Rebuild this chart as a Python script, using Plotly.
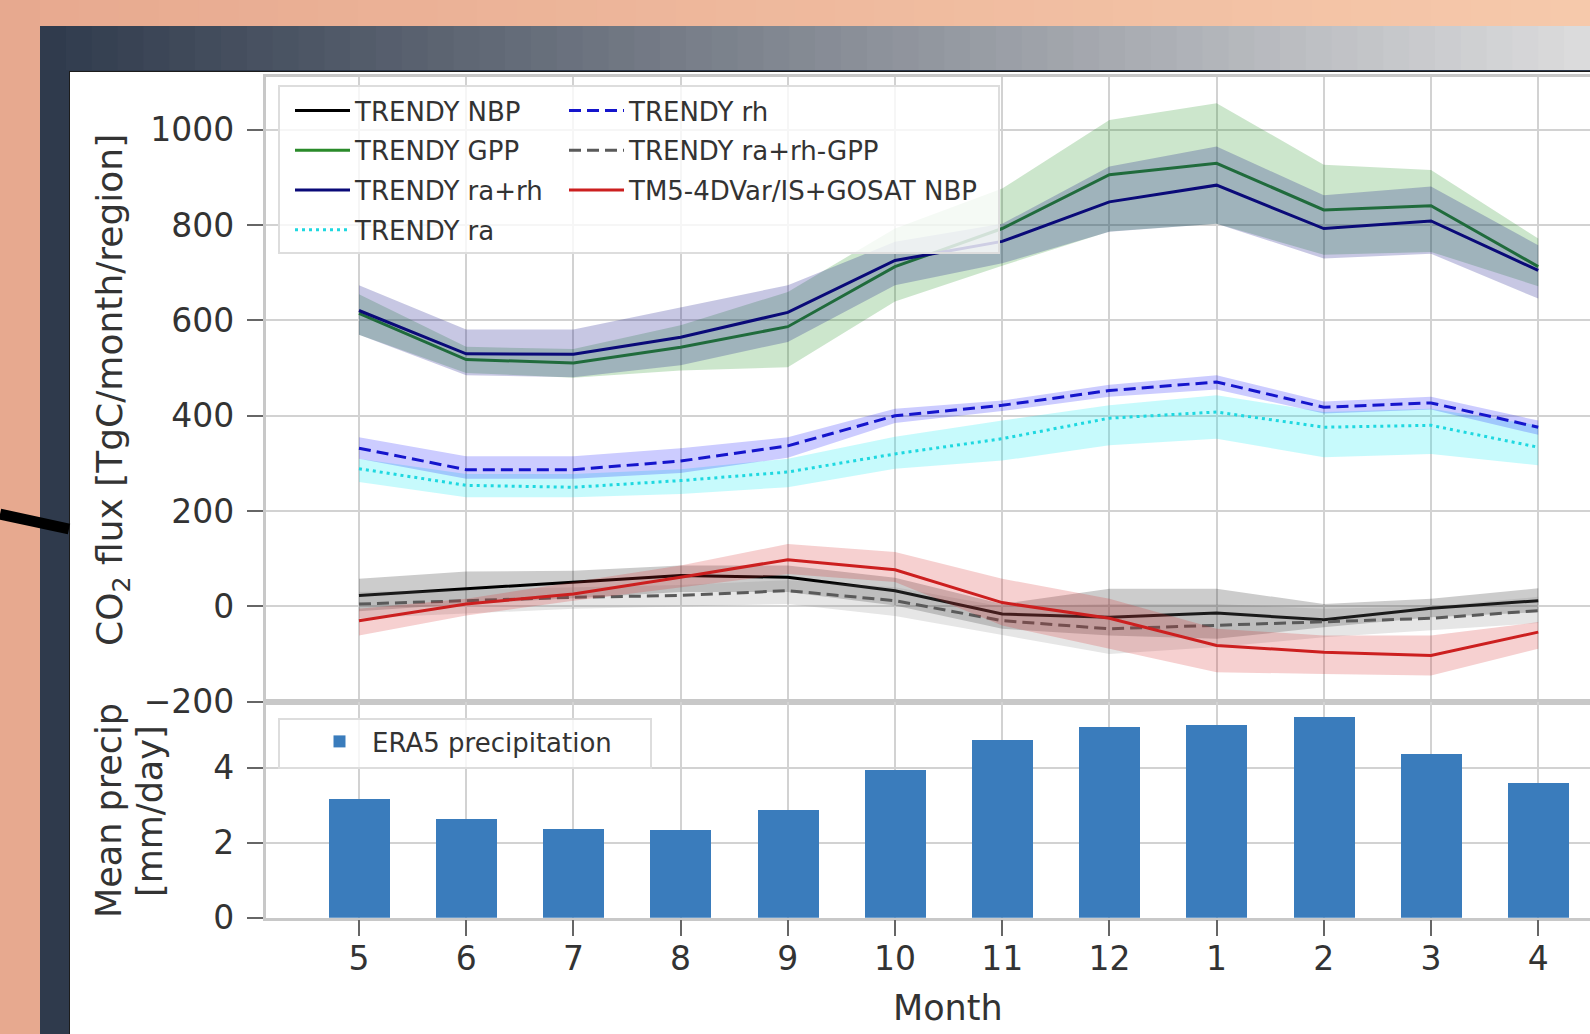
import plotly.graph_objects as go

W, H = 1590, 1034

# ---------------- data ----------------
months = ["5", "6", "7", "8", "9", "10", "11", "12", "1", "2", "3", "4"]

nbp_mean = [23, 37, 51, 65, 61, 33, -16, -23, -14, -28, -4, 12]
nbp_lo = [-10, 5, 17, 30, 30, 2, -47, -61, -68, -44, -23, -12]
nbp_hi = [58, 73, 75, 86, 86, 60, 5, 37, 37, 5, 16, 38]

gpp_mean = [615, 518, 511, 544, 587, 713, 793, 906, 930, 832, 841, 713]
gpp_lo = [570, 490, 480, 495, 502, 640, 715, 787, 803, 738, 744, 672]
gpp_hi = [655, 545, 540, 590, 660, 793, 877, 1021, 1056, 927, 916, 772]

rarh_mean = [621, 530, 529, 565, 617, 726, 766, 849, 884, 793, 809, 705]
rarh_lo = [570, 485, 481, 506, 555, 674, 720, 786, 803, 730, 740, 646]
rarh_hi = [674, 581, 581, 628, 674, 765, 803, 923, 965, 863, 881, 758]

ra_mean = [289, 254, 250, 264, 282, 320, 352, 395, 408, 376, 380, 334]
ra_lo = [261, 229, 229, 236, 250, 289, 306, 338, 352, 313, 320, 296]
ra_hi = [310, 278, 278, 288, 310, 356, 390, 422, 443, 408, 415, 380]

rh_mean = [332, 287, 287, 305, 337, 400, 422, 453, 471, 418, 427, 376]
rh_lo = [310, 268, 268, 280, 312, 385, 410, 440, 455, 405, 413, 360]
rh_hi = [355, 315, 315, 332, 355, 415, 432, 465, 485, 430, 440, 390]

diff_mean = [5, 12, 19, 23, 33, 12, -30, -47, -40, -33, -25, -9]
diff_lo = [-25, -15, -5, 0, 5, -20, -60, -100, -85, -65, -50, -35]
diff_hi = [30, 35, 40, 45, 55, 40, 0, 5, 5, -5, 0, 20]

tm5_mean = [-30, 5, 26, 61, 98, 77, 8, -25, -82, -96, -103, -54]
tm5_lo = [-61, -19, 12, 40, 68, 51, -40, -89, -138, -142, -145, -89]
tm5_hi = [-5, 16, 51, 86, 131, 114, 58, 16, -47, -61, -61, -33]

precip = [3.18, 2.65, 2.38, 2.36, 2.89, 3.94, 4.74, 5.09, 5.16, 5.36, 4.38, 3.60]

flux_ticks = [-200, 0, 200, 400, 600, 800, 1000]
precip_ticks = [0, 2, 4]

# ---------------- helpers ----------------
def px(x):
    return x / W


def py(y):
    return 1 - y / H


def hex2rgb(h):
    h = h.lstrip("#")
    return tuple(int(h[i:i + 2], 16) for i in (0, 2, 4))


def lerp(c1, c2, t):
    a, b = hex2rgb(c1), hex2rgb(c2)
    return "rgb(%d,%d,%d)" % tuple(round(a[i] + (b[i] - a[i]) * t) for i in range(3))


FONT = "DejaVu Sans"
TXT = "#333333"

fig = go.Figure()

series = [
    ("TRENDY NBP", nbp_mean, nbp_lo, nbp_hi, "#000000", "rgba(0,0,0,0.2)", "solid", "legend"),
    ("TRENDY GPP", gpp_mean, gpp_lo, gpp_hi, "#2a8a2a", "rgba(0,128,0,0.2)", "solid", "legend"),
    ("TRENDY ra+rh", rarh_mean, rarh_lo, rarh_hi, "#0a0a78", "rgba(0,0,128,0.22)", "solid", "legend"),
    ("TRENDY ra", ra_mean, ra_lo, ra_hi, "#1ed8e0", "rgba(0,230,240,0.22)", "3px,4px", "legend"),
    ("TRENDY rh", rh_mean, rh_lo, rh_hi, "#1515cc", "rgba(0,0,255,0.2)", "12px,6px", "legend2"),
    ("TRENDY ra+rh-GPP", diff_mean, diff_lo, diff_hi, "#5a5a5a", "rgba(128,128,128,0.2)", "12px,6px", "legend2"),
    ("TM5-4DVar/IS+GOSAT NBP", tm5_mean, tm5_lo, tm5_hi, "#cc1f1f", "rgba(214,39,40,0.22)", "solid", "legend2"),
]

for name, mean, lo, hi, col, fcol, dash, leg in series:
    fig.add_trace(go.Scatter(x=months, y=lo, mode="lines", line=dict(width=0),
                             showlegend=False, hoverinfo="skip", xaxis="x", yaxis="y"))
    fig.add_trace(go.Scatter(x=months, y=hi, mode="lines", line=dict(width=0),
                             fill="tonexty", fillcolor=fcol,
                             showlegend=False, hoverinfo="skip", xaxis="x", yaxis="y"))
    fig.add_trace(go.Scatter(x=months, y=mean, mode="lines", name=name,
                             line=dict(color=col, width=3, dash=dash),
                             legend=leg, legendgroup=name, xaxis="x", yaxis="y"))

fig.add_trace(go.Bar(x=months, y=precip, name="ERA5 precipitation", width=0.57,
                     marker=dict(color="#3a7cbc", line=dict(width=0)),
                     legend="legend3", xaxis="x2", yaxis="y2"))

# ---------------- decorations (background, frame) ----------------
shapes = []
N = 40
for i in range(N):
    x0, x1 = i * W / N, (i + 1) * W / N + 1
    shapes.append(dict(type="rect", xref="paper", yref="paper", layer="below",
                       x0=px(x0), x1=px(min(x1, W)), y0=0, y1=1,
                       fillcolor=lerp("#e7a98f", "#f6c9ab", (i + 0.5) / N), line=dict(width=0)))
shapes.append(dict(type="rect", xref="paper", yref="paper", layer="below",
                   x0=px(40), x1=1, y0=0, y1=py(26),
                   fillcolor="#2f3a4c", line=dict(width=0)))
M = 60
for i in range(M):
    x0 = 40 + i * (W - 40) / M
    x1 = 40 + (i + 1) * (W - 40) / M + 1
    shapes.append(dict(type="rect", xref="paper", yref="paper", layer="below",
                       x0=px(x0), x1=px(min(x1, W)), y0=py(70), y1=py(26),
                       fillcolor=lerp("#2f3a4c", "#dcdcdd", (i + 0.5) / M), line=dict(width=0)))
shapes.append(dict(type="rect", xref="paper", yref="paper", layer="below",
                   x0=px(69), x1=1, y0=0, y1=py(71),
                   fillcolor="#1c1c1c", line=dict(width=0)))
shapes.append(dict(type="rect", xref="paper", yref="paper", layer="below",
                   x0=px(70), x1=1, y0=0, y1=py(72),
                   fillcolor="#ffffff", line=dict(width=0)))
shapes.append(dict(type="line", xref="paper", yref="paper", layer="below",
                   x0=px(0), y0=py(514), x1=px(69), y1=py(529),
                   line=dict(color="#000000", width=11)))
# legend frames
shapes.append(dict(type="rect", xref="paper", yref="paper", layer="above",
                   x0=px(279), x1=px(999), y0=py(253), y1=py(86),
                   fillcolor="rgba(255,255,255,0.8)", line=dict(color="#dddddd", width=2)))
shapes.append(dict(type="rect", xref="paper", yref="paper", layer="above",
                   x0=px(279), x1=px(651), y0=py(768), y1=py(719),
                   fillcolor="rgba(255,255,255,0.8)", line=dict(color="#dddddd", width=2)))

axis_common = dict(showgrid=True, gridcolor="#d2d2d2", gridwidth=2,
                   showline=True, mirror=True, linecolor="#c8c8c8", linewidth=2.5,
                   zeroline=False, automargin=False,
                   tickfont=dict(family=FONT, size=33, color=TXT),
                   tickcolor="#666666", tickwidth=2)

xr = [-0.87, 11.483]
fig.update_layout(
    width=W, height=H,
    margin=dict(l=0, r=0, t=0, b=0, pad=0, autoexpand=False),
    paper_bgcolor="#eeb89c", plot_bgcolor="rgba(0,0,0,0)",
    font=dict(family=FONT, color=TXT),
    shapes=shapes,
    xaxis=dict(domain=[px(265.7), 1], anchor="y", type="category", range=xr,
               showticklabels=False, ticks="", **axis_common),
    yaxis=dict(domain=[py(701.7), py(77)], anchor="x", range=[-200, 1111],
               tickvals=flux_ticks, ticks="outside", ticklen=16, ticklabelstandoff=6,
               **axis_common),
    xaxis2=dict(domain=[px(265.7), 1], anchor="y2", type="category", range=xr,
                ticks="outside", ticklen=16, ticklabelstandoff=-6, **axis_common),
    yaxis2=dict(domain=[py(917.7), py(701.7)], anchor="x2", range=[0, 5.76],
                tickvals=precip_ticks, ticks="outside", ticklen=16, ticklabelstandoff=6,
                **axis_common),
    bargap=0,
    legend=dict(x=px(290), y=py(87), xanchor="left", yanchor="top",
                bgcolor="rgba(0,0,0,0)", borderwidth=0, itemwidth=55,
                tracegroupgap=3, traceorder="grouped",
                font=dict(family=FONT, size=26, color=TXT)),
    legend2=dict(x=px(564), y=py(87), xanchor="left", yanchor="top",
                 bgcolor="rgba(0,0,0,0)", borderwidth=0, itemwidth=55,
                 tracegroupgap=3, traceorder="grouped",
                 font=dict(family=FONT, size=26, color=TXT)),
    legend3=dict(x=px(307), y=py(718), xanchor="left", yanchor="top",
                 bgcolor="rgba(0,0,0,0)", borderwidth=0, itemwidth=55,
                 font=dict(family=FONT, size=26, color=TXT)),
    annotations=[
        dict(text="CO<sub>2</sub> flux [TgC/month/region]", textangle=-90,
             xref="paper", yref="paper", x=px(112), y=py(390),
             xanchor="center", yanchor="middle", showarrow=False,
             font=dict(family=FONT, size=36, color=TXT)),
        dict(text="Mean precip", textangle=-90,
             xref="paper", yref="paper", x=px(109), y=py(811),
             xanchor="center", yanchor="middle", showarrow=False,
             font=dict(family=FONT, size=35, color=TXT)),
        dict(text="[mm/day]", textangle=-90,
             xref="paper", yref="paper", x=px(150), y=py(811),
             xanchor="center", yanchor="middle", showarrow=False,
             font=dict(family=FONT, size=35, color=TXT)),
        dict(text="Month", xref="paper", yref="paper", x=px(948), y=py(1008),
             xanchor="center", yanchor="middle", showarrow=False,
             font=dict(family=FONT, size=35, color=TXT)),
    ],
)

fig.write_html(
    "out.html",
    config={"displayModeBar": False},
    post_script="document.body.style.margin='0';document.body.style.overflow='hidden';",
)
